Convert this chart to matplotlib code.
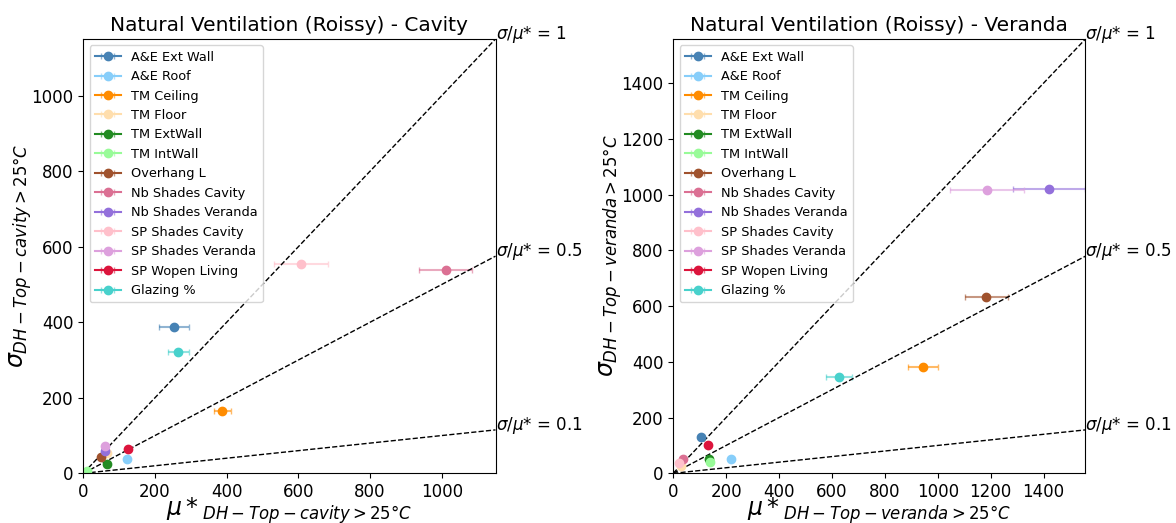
import matplotlib.pyplot as plt
from matplotlib.ticker import MultipleLocator

labels = ["A&E Ext Wall", "A&E Roof", "TM Ceiling", "TM Floor", "TM ExtWall", "TM IntWall",
          "Overhang L", "Nb Shades Cavity", "Nb Shades Veranda", "SP Shades Cavity",
          "SP Shades Veranda", "SP Wopen Living", "Glazing %"]
colors = ["steelblue", "lightskyblue", "darkorange", "navajowhite", "forestgreen", "palegreen",
          "sienna", "palevioletred", "mediumpurple", "pink", "plum", "crimson", "mediumturquoise"]

# cavity results
mu_cav = [254, 121, 388, 65, 66, 10, 50, 1011, 61, 607, 62, 124, 265]
sig_cav = [388, 39, 166, 55, 25, 7, 44, 538, 60, 553, 72, 64, 320]
err_cav = [42, 4, 24, 4, 4, 2, 4, 74, 4, 76, 4, 5, 29]

# veranda results
mu_ver = [104, 217, 944, 30, 135, 140, 1184, 36, 1421, 21, 1186, 130, 627]
sig_ver = [129, 52, 381, 28, 50, 40, 634, 50, 1019, 37, 1016, 100, 345]
err_ver = [5, 6, 55, 3, 6, 6, 83, 4, 137, 3, 140, 6, 50]

ratios = [1, 0.5, 0.1]
ratio_txt = ["1", "0.5", "0.1"]

fig, axes = plt.subplots(1, 2, figsize=(11.76, 5.23), dpi=100)
plt.subplots_adjust(left=0.0708, right=0.923, bottom=0.095, top=0.9254, wspace=0.431)

panels = [(axes[0], mu_cav, sig_cav, err_cav, 1150, "Cavity", "cavity"),
          (axes[1], mu_ver, sig_ver, err_ver, 1558, "Veranda", "veranda")]

for ax, mu, sig, err, lim, name, key in panels:
    for i in range(len(labels)):
        pl, caps, bars = ax.errorbar(mu[i], sig[i], xerr=err[i], fmt='-o', color=colors[i],
                                     markersize=6, capsize=2, elinewidth=1.5, label=labels[i])
        for c in caps:
            c.set_alpha(0.6)
        for b in bars:
            b.set_alpha(0.6)
    for r, t in zip(ratios, ratio_txt):
        ax.plot([0, lim], [0, lim * r], 'k--', lw=1)
        ax.text(lim, lim * r, r"$\sigma/\mu$* = " + t, fontsize=12, clip_on=False)
    ax.set_xlim(0, lim)
    ax.set_ylim(0, lim)
    ax.xaxis.set_major_locator(MultipleLocator(200))
    ax.yaxis.set_major_locator(MultipleLocator(200))
    ax.set_title("Natural Ventilation (Roissy) - " + name, fontsize=14.5)
    ax.set_xlabel(r"$\mu*_{DH-Top-" + key + r">25°C}$", fontsize=17, labelpad=-4)
    ax.set_ylabel(r"$\sigma_{DH-Top-" + key + r">25°C}$", fontsize=17, labelpad=-2)
    ax.tick_params(labelsize=12)
    ax.legend(loc="upper left", fontsize=9.3)

plt.savefig("out.png")
